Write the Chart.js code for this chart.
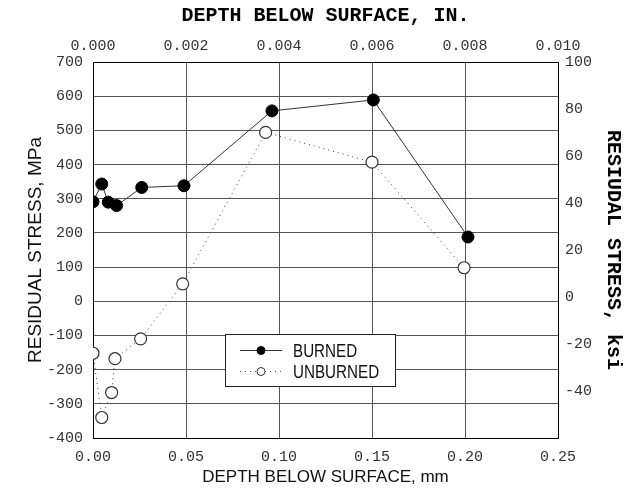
<!DOCTYPE html>
<html lang="en">
<head>
  <meta charset="UTF-8">
  <title>Residual stress vs depth</title>
  <style>
    html, body { margin: 0; padding: 0; background: #fff; }
    #wrap { width: 639px; height: 493px; }
  </style>
</head>
<body>
  <div id="wrap"><canvas id="stressChart" width="639" height="493"></canvas></div>
  <script src="https://cdn.jsdelivr.net/npm/chart.js"></script>
  <script>
    // depth in mm, stress in MPa
    const burnedDepth = [0.000, 0.0047, 0.0082, 0.0127, 0.0262, 0.0489, 0.0962, 0.1507, 0.2016];
    const burnedStress = [291, 343, 290, 280, 333, 338, 557, 589, 188];
    const unburnedDepth = [0.000, 0.0047, 0.0100, 0.0118, 0.0256, 0.0482, 0.0928, 0.1500, 0.1995];
    const unburnedStress = [-152, -340, -267, -168, -110, 51, 494, 407, 98];

    const mmTicks = [0, 0.05, 0.10, 0.15, 0.20, 0.25];
    const inchTicks = [0, 0.002, 0.004, 0.006, 0.008, 0.010];
    const mpaTicks = [-400, -300, -200, -100, 0, 100, 200, 300, 400, 500, 600, 700];
    const ksiTicks = [-40, -20, 0, 20, 40, 60, 80, 100];

    const seriesNames = ['BURNED', 'UNBURNED'];

    function toPoints(xs, ys) {
      return xs.map((x, i) => ({ x: x, y: ys[i] }));
    }

    function setTicks(values) {
      return function(scale) {
        scale.ticks = values.map(v => ({ value: v }));
      };
    }

    const monoTick = { family: 'Liberation Mono', size: 15 };
    const gridColor = '#555';

    // legend box drawn inside the plot
    const boxLegend = {
      id: 'boxLegend',
      afterDatasetsDraw(chart) {
        const ctx = chart.ctx;
        const x = 225, y = 334, w = 170, h = 52;
        ctx.save();
        ctx.fillStyle = '#fff';
        ctx.fillRect(x, y, w, h);
        ctx.strokeStyle = '#222';
        ctx.lineWidth = 1;
        ctx.strokeRect(x + 0.5, y + 0.5, w, h);

        const rows = [y + 16, y + 37];
        chart.data.datasets.forEach((ds, i) => {
          const ry = rows[i] + 0.5;
          ctx.strokeStyle = ds.borderColor;
          ctx.setLineDash(ds.borderDash || []);
          ctx.beginPath();
          ctx.moveTo(240, ry);
          ctx.lineTo(282, ry);
          ctx.stroke();
          ctx.setLineDash([]);
          ctx.beginPath();
          ctx.arc(261, ry, 4, 0, Math.PI * 2);
          ctx.fillStyle = ds.pointBackgroundColor;
          ctx.fill();
          ctx.strokeStyle = ds.pointBorderColor;
          ctx.stroke();
          // squeezed text, the original uses a narrow face
          ctx.save();
          ctx.translate(293, ry + 1);
          ctx.scale(0.8, 1);
          ctx.fillStyle = '#111';
          ctx.font = '19px "Liberation Sans", sans-serif';
          ctx.textBaseline = 'middle';
          ctx.fillText(ds.label, 0, 0);
          ctx.restore();
        });
        ctx.restore();
      }
    };

    new Chart(document.getElementById('stressChart'), {
      type: 'line',
      data: {
        datasets: [{
          label: seriesNames[0],
          data: toPoints(burnedDepth, burnedStress),
          borderColor: '#333',
          borderWidth: 1,
          pointRadius: 6,
          pointBackgroundColor: '#000',
          pointBorderColor: '#000',
          pointBorderWidth: 1,
          clip: 0
        }, {
          label: seriesNames[1],
          data: toPoints(unburnedDepth, unburnedStress),
          borderColor: '#444',
          borderWidth: 1,
          borderDash: [1, 4],
          pointRadius: 6,
          pointBackgroundColor: '#fff',
          pointBorderColor: '#333',
          pointBorderWidth: 1.2,
          clip: 0
        }]
      },
      options: {
        responsive: false,
        animation: false,
        layout: { padding: 0 },
        plugins: {
          legend: { display: false },
          tooltip: { enabled: false }
        },
        scales: {
          x: {
            type: 'linear',
            position: 'bottom',
            min: 0,
            max: 0.25,
            afterBuildTicks: setTicks(mmTicks),
            afterFit(scale) { scale.height = 55; },
            grid: { color: gridColor, drawTicks: false },
            border: { color: '#000' },
            ticks: {
              padding: 10,
              color: '#333',
              font: monoTick,
              maxRotation: 0,
              callback: v => v.toFixed(2)
            },
            title: {
              display: true,
              text: 'DEPTH BELOW SURFACE, mm',
              color: '#111',
              font: { family: 'Liberation Sans', size: 17 },
              padding: { top: 0, bottom: 5 }
            }
          },
          xTop: {
            type: 'linear',
            position: 'top',
            min: 0,
            max: 0.010,
            afterBuildTicks: setTicks(inchTicks),
            afterFit(scale) { scale.height = 62; },
            grid: { drawOnChartArea: false, drawTicks: false },
            border: { color: '#000' },
            ticks: {
              padding: 7,
              color: '#333',
              font: monoTick,
              maxRotation: 0,
              callback: v => v.toFixed(3)
            },
            title: {
              display: true,
              text: 'DEPTH BELOW SURFACE, IN.',
              color: '#000',
              font: { family: 'Liberation Mono', size: 20, weight: 'bold' },
              padding: { top: 4, bottom: 0 }
            }
          },
          y: {
            type: 'linear',
            position: 'left',
            min: -400,
            max: 700,
            afterBuildTicks: setTicks(mpaTicks),
            afterFit(scale) { scale.width = 93; },
            grid: { color: gridColor, drawTicks: false },
            border: { color: '#000' },
            ticks: {
              padding: 10,
              color: '#333',
              font: monoTick
            },
            title: {
              display: true,
              text: 'RESIDUAL STRESS, MPa',
              color: '#111',
              font: { family: 'Liberation Sans', size: 19 },
              padding: { top: 24, bottom: 0 }
            }
          },
          yRight: {
            type: 'linear',
            position: 'right',
            min: -60,
            max: 100,
            afterBuildTicks: setTicks(ksiTicks),
            afterFit(scale) { scale.width = 81; },
            grid: { drawOnChartArea: false, drawTicks: false },
            border: { color: '#000' },
            ticks: {
              padding: 7,
              color: '#333',
              font: monoTick
            },
            title: {
              display: true,
              text: 'RESIUDAL STRESS, ksi',
              color: '#000',
              font: { family: 'Liberation Mono', size: 20, weight: 'bold' },
              padding: { top: 14, bottom: 0 }
            }
          }
        }
      },
      plugins: [boxLegend]
    });
  </script>
</body>
</html>
